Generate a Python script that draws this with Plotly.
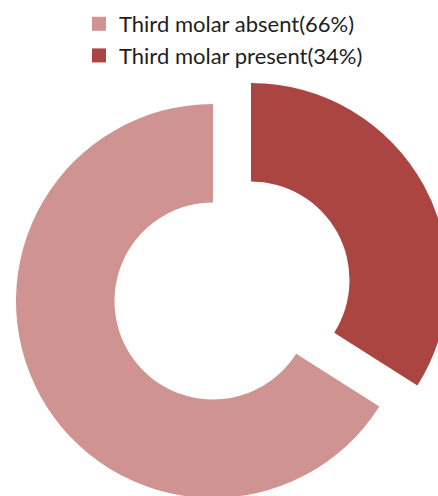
import plotly.graph_objects as go

labels = ["Third molar absent(66%)", "Third molar present(34%)"]
values = [66, 34]
colors = ["#CF9492", "#AB4542"]
clear = "rgba(0,0,0,0)"

W, H = 460, 510

# order so the 34% slice starts at 12 o'clock, clockwise
pie_labels = labels[::-1]
pie_values = values[::-1]

fig = go.Figure()

# main ring (66% slice visible)
fig.add_trace(go.Pie(
    labels=pie_labels, values=pie_values, sort=False, direction="clockwise",
    rotation=0, hole=0.5,
    marker=dict(colors=[clear, colors[0]], line=dict(width=0)),
    textinfo="none", showlegend=False, hoverinfo="label+percent",
    domain=dict(x=[16 / W, 410 / W], y=[1 - 498 / H, 1 - 104 / H]),
))
# exploded 34% slice
fig.add_trace(go.Pie(
    labels=pie_labels, values=pie_values, sort=False, direction="clockwise",
    rotation=0, hole=0.5,
    marker=dict(colors=[colors[1], clear], line=dict(width=0)),
    textinfo="none", showlegend=False, hoverinfo="label+percent",
    domain=dict(x=[54 / W, 448 / W], y=[1 - 477 / H, 1 - 83 / H]),
))

# legend entries
for lab, col in zip(labels, colors):
    fig.add_trace(go.Scatter(
        x=[None], y=[None], mode="markers", name=lab,
        marker=dict(symbol="square", size=14, color=col),
    ))

fig.update_layout(
    width=W, height=H, autosize=False,
    margin=dict(l=0, r=0, t=0, b=0),
    paper_bgcolor="white", plot_bgcolor="white",
    xaxis=dict(visible=False), yaxis=dict(visible=False),
    showlegend=True,
    legend=dict(x=79 / W, y=1 - 3 / H, xanchor="left", yanchor="top",
                font=dict(family="Lato", size=22, color="#1e1e1e"),
                bgcolor="rgba(0,0,0,0)", borderwidth=0),
    font=dict(family="Lato"),
)

fig.write_html(
    "out.html",
    config={"displayModeBar": False},
    post_script="document.documentElement.style.overflow='hidden';document.body.style.overflow='hidden';document.body.style.margin='0';",
)
